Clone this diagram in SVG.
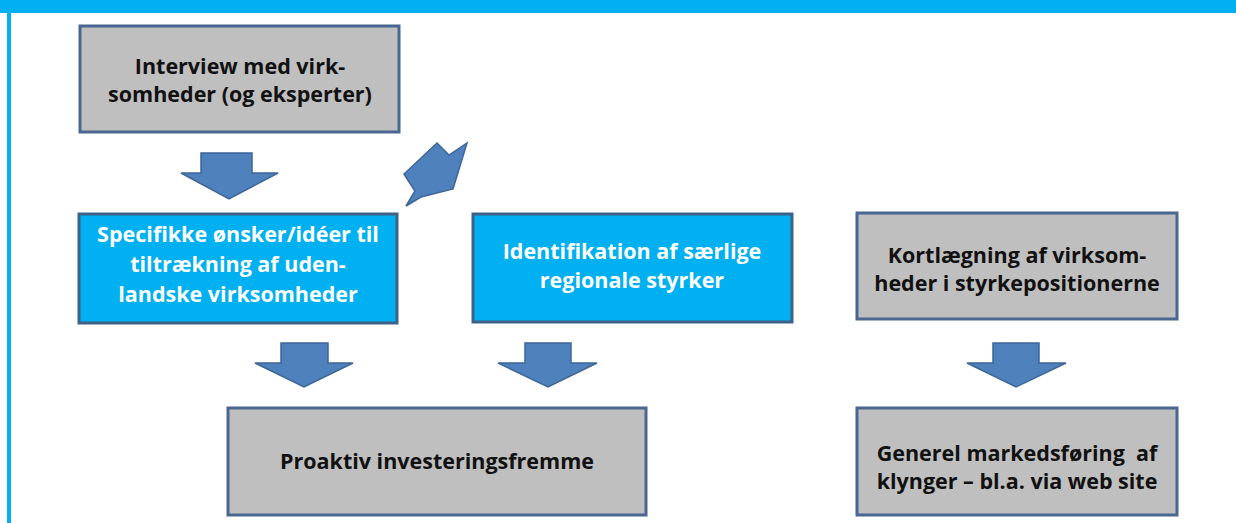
<svg xmlns="http://www.w3.org/2000/svg" width="1236" height="523" viewBox="0 0 1236 523">
  <style>
    .gray { fill: #bfbfbf; stroke: #4a6791; stroke-width: 3; }
    .blue { fill: #00b0f0; stroke: #3f6188; stroke-width: 3; }
    .arrow { fill: #4f81bd; stroke: #3d6699; stroke-width: 1.5; stroke-linejoin: miter; }
    text { font-family: "Open Sans", "Liberation Sans", sans-serif; font-weight: bold; font-size: 21.5px; text-anchor: middle; }
    .dark { fill: #111111; }
    .light { fill: #ffffff; }
  </style>

  <!-- frame -->
  <rect x="0" y="0" width="1236" height="523" fill="#ffffff"/>
  <rect x="0" y="0" width="1236" height="13" fill="#00b0f0"/>
  <rect x="7" y="0" width="4" height="523" fill="#00b0f0"/>

  <!-- connectors: block arrows -->
  <g id="connectors">
    <polygon class="arrow" points="201,153 252,153 252,173 278,173 229,199 181,173 201,173"/>
    <polygon class="arrow" points="437,143 449,155 467,143 453,189 421,197 406,206 415,191 404,174"/>
    <polygon class="arrow" points="281,343 328,343 328,363 353,363 304,387 255,363 281,363"/>
    <polygon class="arrow" points="525,343 571,343 571,363 597,363 548,387 498,363 525,363"/>
    <polygon class="arrow" points="993,343 1039,343 1039,363 1066,363 1016,387 967,363 993,363"/>
  </g>

  <g id="interview">
    <rect class="gray" x="80" y="26" width="319" height="106"/>
    <text class="dark" x="240" y="74">Interview med virk-</text>
    <text class="dark" x="240" y="102">somheder (og eksperter)</text>
  </g>

  <g id="oensker">
    <rect class="blue" x="79" y="214" width="318" height="109"/>
    <text class="light" x="238" y="242">Specifikke ønsker/idéer til</text>
    <text class="light" x="238" y="272">tiltrækning af uden-</text>
    <text class="light" x="238" y="302">landske virksomheder</text>
  </g>

  <g id="identifikation">
    <rect class="blue" x="473" y="214" width="319" height="108"/>
    <text class="light" x="632" y="259">Identifikation af særlige</text>
    <text class="light" x="632" y="288">regionale styrker</text>
  </g>

  <g id="kortlaegning">
    <rect class="gray" x="857" y="213" width="320" height="106"/>
    <text class="dark" x="1017" y="263">Kortlægning af virksom-</text>
    <text class="dark" x="1017" y="291">heder i styrkepositionerne</text>
  </g>

  <g id="proaktiv">
    <rect class="gray" x="228" y="408" width="418" height="107"/>
    <text class="dark" x="437" y="469">Proaktiv investeringsfremme</text>
  </g>

  <g id="markedsfoering">
    <rect class="gray" x="857" y="408" width="320" height="107"/>
    <text class="dark" x="1017" y="461" xml:space="preserve">Generel markedsføring  af</text>
    <text class="dark" x="1017" y="489">klynger – bl.a. via web site</text>
  </g>
</svg>
